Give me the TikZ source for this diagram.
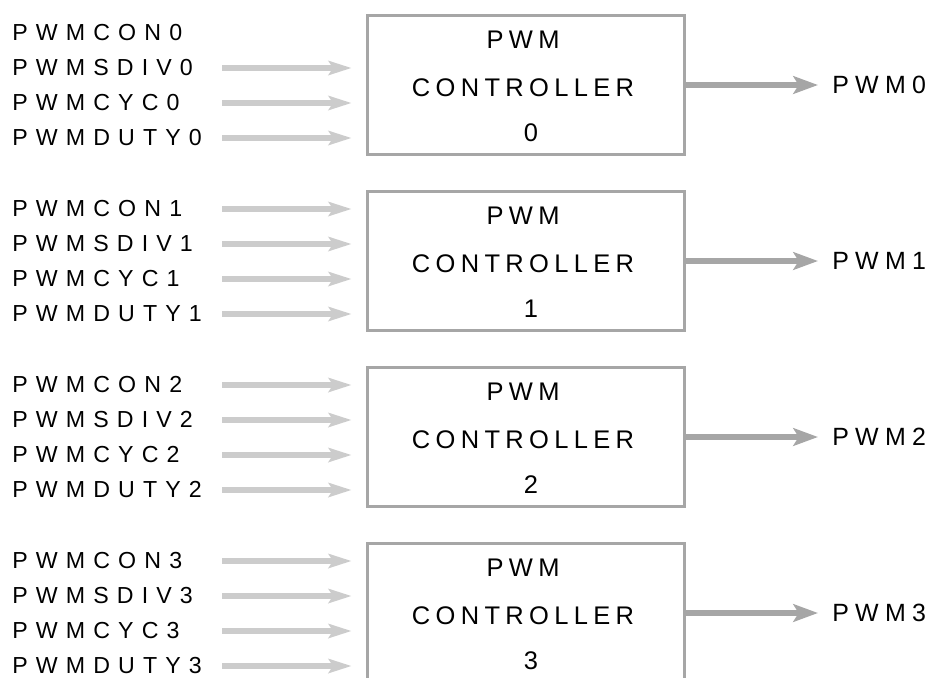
\documentclass[tikz,border=0pt]{standalone}
\usepackage{fontspec}
\usepackage{xcolor}
\usepackage{tikz}
\usetikzlibrary{arrows.meta,positioning}
\newfontfamily\lblfont[LetterSpace=35]{Liberation Sans}
\newfontfamily\boxfont[LetterSpace=21]{Liberation Sans}
\newfontfamily\outfont[LetterSpace=25]{Liberation Sans}
\definecolor{inarrow}{HTML}{CCCCCC}
\definecolor{outarrow}{HTML}{A6A6A6}
\definecolor{boxline}{HTML}{A6A6A6}
\tikzset{
  reg/.style={anchor=west,inner sep=0pt,font=\lblfont\fontsize{13.2}{15}\selectfont},
  pwmout/.style={anchor=west,inner sep=0pt,font=\outfont\fontsize{14.2}{16}\selectfont},
  ctrl/.style={draw=boxline,line width=1.7pt,minimum width=6.36cm,minimum height=2.78cm,inner sep=0pt},
  ctxt/.style={inner sep=0pt,font=\boxfont\fontsize{14.5}{17}\selectfont},
  inarr/.style={-{Stealth[length=13pt,width=8pt,inset=2.5pt]},inarrow,line width=3pt},
  outarr/.style={-{Stealth[length=14pt,width=10pt,inset=3pt]},outarrow,line width=3.4pt},
}
\begin{document}
\begin{tikzpicture}[x=0.02cm,y=-0.02cm]
  \useasboundingbox (0,0) rectangle (930,677);
  \clip (0,0) rectangle (930,677);
  \foreach \g in {0,1,2,3} {
    \pgfmathsetmacro{\t}{15+176*\g}
    % controller box and its text
    \node[ctrl] (box\g) at (526,{\t+70}) {};
    \node[ctxt] (pw\g) at (523,{\t+25}) {PWM};
    \node[ctxt] (ct\g) at (523,{\t+73}) {CONTROLLER};
    \node[ctxt] (no\g) at (531,{\t+118}) {\g};
    % registers
    \foreach \r/\nm [count=\k from 0] in {con/PWMCON,sdiv/PWMSDIV,cyc/PWMCYC,duty/PWMDUTY} {
      \node[reg] (\r\g) at (12,{\t+18+35*\k}) {\nm\g};
      \ifnum\numexpr\g+\k\relax>0
        \coordinate (s\r\g) at (222,{\t+18+35*\k});
        \draw[inarr,shorten >=0.28cm] (s\r\g) -- (s\r\g -| box\g.west);
      \fi
    }
    % output
    \node[pwmout] (pwm\g) at (832,{\t+70}) {PWM\g};
    \draw[outarr,shorten >=0.28cm] (box\g) -- (pwm\g);
  }
\end{tikzpicture}
\end{document}
